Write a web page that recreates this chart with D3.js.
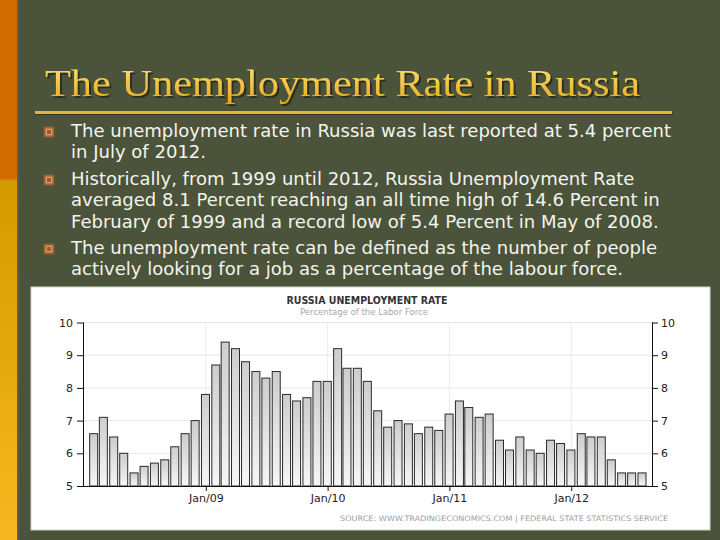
<!DOCTYPE html>
<html><head><meta charset="utf-8">
<script src="https://cdn.jsdelivr.net/npm/d3@7"></script>
<style>html,body{margin:0;padding:0;background:#4b533a;} svg{display:block}</style>
</head><body>
<svg id="c" width="720" height="540"></svg>
<script>
// ---------- data ----------
const titleText = "The Unemployment Rate in Russia";
const bulletLines = [
  ["The unemployment rate in Russia was last reported at 5.4 percent", "in July of 2012."],
  ["Historically, from 1999 until 2012, Russia Unemployment Rate",
   "averaged 8.1 Percent reaching an all time high of 14.6 Percent in",
   "February of 1999 and a record low of 5.4 Percent in May of 2008."],
  ["The unemployment rate can be defined as the number of people",
   "actively looking for a job as a percentage of the labour force."]
];
const chartTitle = "RUSSIA UNEMPLOYMENT RATE";
const chartSubtitle = "Percentage of the Labor Force";
const sourceText = "SOURCE: WWW.TRADINGECONOMICS.COM  |  FEDERAL STATE STATISTICS SERVICE";
const firstYear = 2008, firstMonth = 0; // January 2008
const rates = [6.6, 7.1, 6.5, 6.0, 5.4, 5.6, 5.7, 5.8, 6.2, 6.6, 7.0, 7.8,
               8.7, 9.4, 9.2, 8.8, 8.5, 8.3, 8.5, 7.8, 7.6, 7.7, 8.2, 8.2,
               9.2, 8.6, 8.6, 8.2, 7.3, 6.8, 7.0, 6.9, 6.6, 6.8, 6.7, 7.2,
               7.6, 7.4, 7.1, 7.2, 6.4, 6.1, 6.5, 6.1, 6.0, 6.4, 6.3, 6.1,
               6.6, 6.5, 6.5, 5.8, 5.4, 5.4, 5.4];
const yTicks = [5, 6, 7, 8, 9, 10];
const xTickDates = [new Date(2009,0,1), new Date(2010,0,1), new Date(2011,0,1), new Date(2012,0,1)];
const xDomain = [new Date(2007,11,30), new Date(2012,7,30)];
const yDomain = [5, 10];

// ---------- drawing ----------
const svg = d3.select("#c");
const defs = svg.append("defs");

// background
svg.append("rect").attr("width",720).attr("height",540).attr("fill","#4b533a");
// left strip
const sg = defs.append("linearGradient").attr("id","strip").attr("x1",0).attr("x2",0).attr("y1",0).attr("y2",1);
sg.append("stop").attr("offset","0").attr("stop-color","#d26c00");
sg.append("stop").attr("offset","0.33").attr("stop-color","#d26c00");
sg.append("stop").attr("offset","0.335").attr("stop-color","#d49a00");
sg.append("stop").attr("offset","1").attr("stop-color","#f6b820");
svg.append("rect").attr("x",0).attr("y",0).attr("width",17).attr("height",540).attr("fill","url(#strip)");
svg.append("rect").attr("x",17).attr("y",0).attr("width",2).attr("height",540).attr("fill","#5a5f48");

// title
const tg = defs.append("linearGradient").attr("id","tgrad").attr("x1",0).attr("x2",0).attr("y1",0).attr("y2",1);
tg.append("stop").attr("offset","0").attr("stop-color","#fde474");
tg.append("stop").attr("offset","1").attr("stop-color","#e6a61c");
const sh = defs.append("filter").attr("id","tshadow").attr("x","-5%").attr("y","-20%").attr("width","110%").attr("height","150%");
sh.append("feDropShadow").attr("dx",2).attr("dy",2).attr("stdDeviation",0.6)
  .attr("flood-color","#262a1a").attr("flood-opacity",0.95);
function fitText(sel, w) {
  sel.attr("textLength", w).attr("lengthAdjust","spacingAndGlyphs");
}
const tMain = svg.append("text").attr("x",45).attr("y",96)
  .attr("font-family","'Liberation Serif','DejaVu Serif',serif").attr("font-size",37)
  .attr("fill","url(#tgrad)").attr("filter","url(#tshadow)").text(titleText);
fitText(tMain, 595);
// underline
svg.append("rect").attr("x",35).attr("y",113).attr("width",638).attr("height",2).attr("fill","#2f331f");
svg.append("rect").attr("x",35).attr("y",111).attr("width",637).attr("height",3).attr("fill","#e0b638");

// bullets
const lineFont = "'DejaVu Sans',Verdana,sans-serif";
const bulletTop = [137, 185, 254];
const lineGap = 21.3;
const probe = svg.append("text").attr("font-family",lineFont).attr("font-size",17.5).text(bulletLines[0][0]);
const squeeze = 600 / probe.node().getComputedTextLength();
probe.remove();
bulletLines.forEach((lines, bi) => {
  const by = bulletTop[bi];
  svg.append("rect").attr("x",44).attr("y",by-10).attr("width",10).attr("height",10)
    .attr("fill","#b8743a").attr("stroke","#7d5a30").attr("stroke-width",1);
  svg.append("rect").attr("x",46.5).attr("y",by-7.5).attr("width",5).attr("height",5)
    .attr("fill","#9a5c2c").attr("stroke","#d9a070").attr("stroke-width",1);
  lines.forEach((ln, li) => {
    const t = svg.append("text").attr("x",71).attr("y",by + li*lineGap)
      .attr("font-family",lineFont).attr("font-size",17.5).attr("fill","#f4f4ee").text(ln);
    const w = t.node().getComputedTextLength();
    t.attr("textLength", w*squeeze).attr("lengthAdjust","spacingAndGlyphs");
  });
});

// chart panel
svg.append("rect").attr("x",31).attr("y",287).attr("width",679).attr("height",243)
  .attr("fill","#ffffff").attr("stroke","#d0d3c8").attr("stroke-width",1);

const x = d3.scaleTime().domain(xDomain).range([83, 652]);
const y = d3.scaleLinear().domain(yDomain).range([486, 322.5]);

const g = svg.append("g");
// grid
g.selectAll("line.hg").data(yTicks.slice(1)).join("line").attr("class","hg")
  .attr("x1",83).attr("x2",652).attr("y1",d=>y(d)).attr("y2",d=>y(d))
  .attr("stroke","#e6e6e6").attr("stroke-width",1);
g.selectAll("line.vg").data(xTickDates).join("line").attr("class","vg")
  .attr("x1",d=>x(d)).attr("x2",d=>x(d)).attr("y1",y(10)).attr("y2",y(5))
  .attr("stroke","#ececec").attr("stroke-width",1);

// bars
const bg = defs.append("linearGradient").attr("id","bgrad").attr("x1",0).attr("x2",0).attr("y1",0).attr("y2",1);
bg.append("stop").attr("offset","0").attr("stop-color","#cdcdcd");
bg.append("stop").attr("offset","1").attr("stop-color","#f6f6f6");
const barData = rates.map((v,i) => ({date: new Date(firstYear, firstMonth + i + 1, 0), v}));
const bw = 8;
g.selectAll("rect.bar").data(barData).join("rect").attr("class","bar")
  .attr("x", d => x(d.date) - bw/2).attr("width", bw)
  .attr("y", d => y(d.v)).attr("height", d => y(5) - y(d.v))
  .attr("fill","url(#bgrad)").attr("stroke","#2a2a2a").attr("stroke-width",1);

// axes
const axFont = "'DejaVu Sans',Verdana,sans-serif";
const left = svg.append("g").attr("transform","translate(83,0)")
  .call(d3.axisLeft(y).tickValues(yTicks).tickFormat(d3.format("d")).tickSize(6).tickPadding(4));
const right = svg.append("g").attr("transform","translate(652,0)")
  .call(d3.axisRight(y).tickValues(yTicks).tickFormat(d3.format("d")).tickSize(6).tickPadding(3));
const bottom = svg.append("g").attr("transform","translate(0,486)")
  .call(d3.axisBottom(x).tickValues(xTickDates).tickFormat(d3.timeFormat("%b/%y")).tickSize(5).tickPadding(3));
bottom.select(".domain").attr("d","M77,0.5H658");
[left,right,bottom].forEach(a => {
  a.selectAll("text").attr("font-family",axFont).attr("font-size",11).attr("fill","#222");
  a.selectAll("line").attr("stroke","#111");
  a.select(".domain").attr("stroke","#111");
});
left.select(".domain").attr("d","M0.5,322.5V486");
right.select(".domain").attr("d","M0.5,322.5V486");

// chart titles
const ct = svg.append("text").attr("x",367).attr("y",304).attr("text-anchor","middle")
  .attr("font-family",axFont).attr("font-size",10.5).attr("font-weight","bold").attr("fill","#333").text(chartTitle);
fitText(ct, 161);
const cs = svg.append("text").attr("x",364).attr("y",315).attr("text-anchor","middle")
  .attr("font-family",axFont).attr("font-size",8).attr("fill","#a8a8a8").text(chartSubtitle);
fitText(cs, 128);
const src = svg.append("text").attr("x",668).attr("y",521).attr("text-anchor","end")
  .attr("font-family",axFont).attr("font-size",7.5).attr("fill","#a0a0a0").text(sourceText);
fitText(src, 328);
</script>
</body></html>
